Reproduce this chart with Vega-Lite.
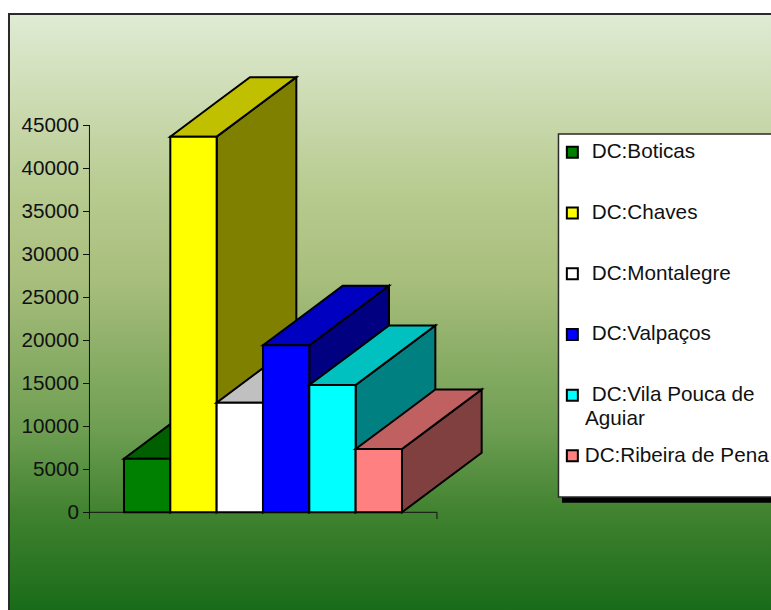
{
"$schema":"https://vega.github.io/schema/vega-lite/v6.json",
"width":771,"height":610,"padding":0,"autosize":{"type":"none"},
"background":"white",
"config":{"view":{"stroke":null},"font":"Liberation Sans"},
"datasets":{
"faces":[
{"face":"DC:Boticas lado","x":1,"y":0,"y2":6240},{"face":"DC:Boticas lado","x":2.72,"y":6920,"y2":13160},
{"face":"DC:Boticas topo","x":0,"y":6240,"y2":6240},{"face":"DC:Boticas topo","x":1,"y":6240,"y2":10263},{"face":"DC:Boticas topo","x":1.72,"y":9137,"y2":13160},{"face":"DC:Boticas topo","x":2.72,"y":13160,"y2":13160},
{"face":"DC:Boticas","x":0,"y":0,"y2":6240},{"face":"DC:Boticas","x":1,"y":0,"y2":6240},
{"face":"DC:Chaves lado","x":2,"y":0,"y2":43700},{"face":"DC:Chaves lado","x":3.72,"y":6920,"y2":50620},
{"face":"DC:Chaves topo","x":1,"y":43700,"y2":43700},{"face":"DC:Chaves topo","x":2,"y":43700,"y2":47723},{"face":"DC:Chaves topo","x":2.72,"y":46597,"y2":50620},{"face":"DC:Chaves topo","x":3.72,"y":50620,"y2":50620},
{"face":"DC:Chaves","x":1,"y":0,"y2":43700},{"face":"DC:Chaves","x":2,"y":0,"y2":43700},
{"face":"DC:Montalegre lado","x":3,"y":0,"y2":12750},{"face":"DC:Montalegre lado","x":4.72,"y":6920,"y2":19670},
{"face":"DC:Montalegre topo","x":2,"y":12750,"y2":12750},{"face":"DC:Montalegre topo","x":3,"y":12750,"y2":16773},{"face":"DC:Montalegre topo","x":3.72,"y":15647,"y2":19670},{"face":"DC:Montalegre topo","x":4.72,"y":19670,"y2":19670},
{"face":"DC:Montalegre","x":2,"y":0,"y2":12750},{"face":"DC:Montalegre","x":3,"y":0,"y2":12750},
{"face":"DC:Valpaços lado","x":4,"y":0,"y2":19430},{"face":"DC:Valpaços lado","x":5.72,"y":6920,"y2":26350},
{"face":"DC:Valpaços topo","x":3,"y":19430,"y2":19430},{"face":"DC:Valpaços topo","x":4,"y":19430,"y2":23453},{"face":"DC:Valpaços topo","x":4.72,"y":22327,"y2":26350},{"face":"DC:Valpaços topo","x":5.72,"y":26350,"y2":26350},
{"face":"DC:Valpaços","x":3,"y":0,"y2":19430},{"face":"DC:Valpaços","x":4,"y":0,"y2":19430},
{"face":"DC:Vila Pouca de Aguiar lado","x":5,"y":0,"y2":14810},{"face":"DC:Vila Pouca de Aguiar lado","x":6.72,"y":6920,"y2":21730},
{"face":"DC:Vila Pouca de Aguiar topo","x":4,"y":14810,"y2":14810},{"face":"DC:Vila Pouca de Aguiar topo","x":5,"y":14810,"y2":18833},{"face":"DC:Vila Pouca de Aguiar topo","x":5.72,"y":17707,"y2":21730},{"face":"DC:Vila Pouca de Aguiar topo","x":6.72,"y":21730,"y2":21730},
{"face":"DC:Vila Pouca de Aguiar","x":4,"y":0,"y2":14810},{"face":"DC:Vila Pouca de Aguiar","x":5,"y":0,"y2":14810},
{"face":"DC:Ribeira de Pena lado","x":6,"y":0,"y2":7360},{"face":"DC:Ribeira de Pena lado","x":7.72,"y":6920,"y2":14280},
{"face":"DC:Ribeira de Pena topo","x":5,"y":7360,"y2":7360},{"face":"DC:Ribeira de Pena topo","x":6,"y":7360,"y2":11383},{"face":"DC:Ribeira de Pena topo","x":6.72,"y":10257,"y2":14280},{"face":"DC:Ribeira de Pena topo","x":7.72,"y":14280,"y2":14280},
{"face":"DC:Ribeira de Pena","x":5,"y":0,"y2":7360},{"face":"DC:Ribeira de Pena","x":6,"y":0,"y2":7360}
]},
"layer":[
{"data":{"values":[{"x":-2.482,"x2":14.5,"y":57969,"y2":-12000}]},
 "mark":{"type":"rect","stroke":"#2a2a2a","strokeWidth":2,"fill":{"gradient":"linear","x1":0,"y1":0,"x2":0,"y2":1,"stops":[{"offset":0,"color":"#e0ebd4"},{"offset":0.293,"color":"#b8cb90"},{"offset":0.443,"color":"#a8be7c"},{"offset":0.69,"color":"#6e9e52"},{"offset":0.83,"color":"#40822f"},{"offset":1,"color":"#176a18"}]}},
 "encoding":{"x":{"field":"x","type":"quantitative","scale":{"domain":[-2.676,13.965],"nice":false,"zero":false},"axis":null},"x2":{"field":"x2"},
  "y":{"field":"y","type":"quantitative","scale":{"domain":[-11366,59597],"nice":false,"zero":false},
   "axis":{"title":null,"values":[0,5000,10000,15000,20000,25000,30000,35000,40000,45000],"offset":-89.5,"domain":false,"grid":false,"tickColor":"#111","tickSize":7,"tickWidth":1,"labelPadding":4,"labelFontSize":20.7,"labelFont":"Liberation Sans","labelColor":"#111","format":"d","zindex":1}},
  "y2":{"field":"y2"}}},
{"data":{"values":[{"x":9.454,"x2":14.5,"y":43543,"y2":1117}]},
 "mark":{"type":"rect","fill":"black"},
 "encoding":{"x":{"field":"x","type":"quantitative"},"x2":{"field":"x2"},"y":{"field":"y","type":"quantitative"},"y2":{"field":"y2"}}},
{"data":{"values":[{"x":9.378,"x2":14.5,"y":44009,"y2":1780}]},
 "mark":{"type":"rect","fill":"white","stroke":"#2a2a2a","strokeWidth":1.5},
 "encoding":{"x":{"field":"x","type":"quantitative"},"x2":{"field":"x2"},"y":{"field":"y","type":"quantitative"},"y2":{"field":"y2"}}},
{"data":{"values":[{"x":-0.745,"y":-780,"y2":45000},{"x":6.756,"y":-780,"y2":0}]},
 "mark":{"type":"rule","color":"#111","strokeWidth":1},
 "encoding":{"x":{"field":"x","type":"quantitative"},"y":{"field":"y","type":"quantitative"},"y2":{"field":"y2"}}},
{"data":{"values":[{"x":-0.745,"x2":6.756,"y":0}]},
 "mark":{"type":"rule","color":"#111","strokeWidth":1},
 "encoding":{"x":{"field":"x","type":"quantitative"},"x2":{"field":"x2"},"y":{"field":"y","type":"quantitative"}}},
{"data":{"values":[{"x":9.95,"y":10854,"text":"Aguiar"}]},
 "mark":{"type":"text","align":"left","baseline":"middle","font":"Liberation Sans","fontSize":20.7,"color":"#111"},
 "encoding":{"x":{"field":"x","type":"quantitative"},"y":{"field":"y","type":"quantitative"},"text":{"field":"text"}}},
{"data":{"name":"faces"},
 "mark":{"type":"area","stroke":"black","strokeWidth":2,"opacity":1},
 "encoding":{
  "x":{"field":"x","type":"quantitative"},
  "y":{"field":"y","type":"quantitative","stack":null},
  "y2":{"field":"y2"},
  "color":{"field":"face","type":"nominal","sort":null,
   "scale":{"domain":["DC:Boticas","DC:Chaves","DC:Montalegre","DC:Valpaços","DC:Vila Pouca de Aguiar","DC:Ribeira de Pena","DC:Boticas topo","DC:Chaves topo","DC:Montalegre topo","DC:Valpaços topo","DC:Vila Pouca de Aguiar topo","DC:Ribeira de Pena topo","DC:Boticas lado","DC:Chaves lado","DC:Montalegre lado","DC:Valpaços lado","DC:Vila Pouca de Aguiar lado","DC:Ribeira de Pena lado"],
    "range":["#008000","#ffff00","#ffffff","#0000ff","#00ffff","#ff8080","#006000","#c0c000","#c0c0c0","#0000c0","#00c0c0","#c06060","#004000","#808000","#808080","#000080","#008080","#804040"]},
   "legend":{"title":null,"orient":"none","legendX":562,"legendY":142,"padding":0,
    "values":["DC:Boticas","DC:Chaves","DC:Montalegre","DC:Valpaços","DC:Vila Pouca de Aguiar","DC:Ribeira de Pena"],
    "symbolType":"square","symbolSize":121,"symbolStrokeColor":"black","symbolStrokeWidth":2,"symbolOpacity":1,
    "labelFont":"Liberation Sans","labelFontSize":20.7,"labelColor":"#111","labelOffset":9,"labelLimit":400,"rowPadding":38.7,
    "labelExpr":"datum.label=='DC:Vila Pouca de Aguiar'?'DC:Vila Pouca de':datum.label",
    "encode":{"labels":{"update":{"dx":{"signal":"datum.value=='DC:Ribeira de Pena'?-7:0"}}}}}}
 }}
]
}
